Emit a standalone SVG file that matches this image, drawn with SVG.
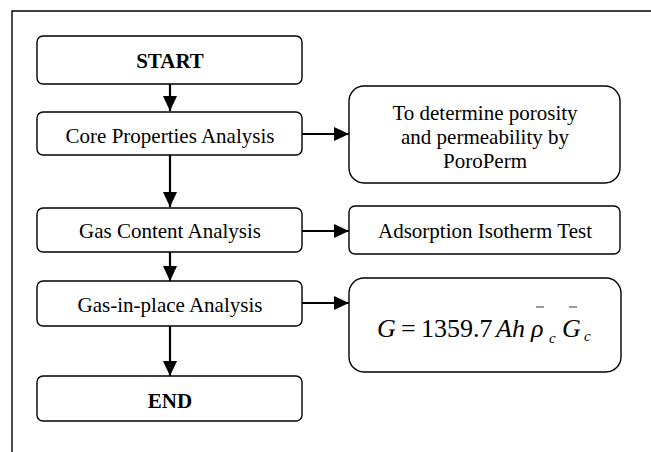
<svg xmlns="http://www.w3.org/2000/svg" width="651" height="452" viewBox="0 0 651 452">
<style>
.box{fill:#fff;stroke:#000;stroke-width:1.4}
.t{font-family:"Liberation Serif","Times New Roman",serif;font-size:21px;fill:#000;text-anchor:middle}
.b{font-weight:bold}
.conn{stroke:#000;stroke-width:2.2;fill:none}
.m{font-family:"Liberation Serif","Times New Roman",serif;fill:#000}
</style>
<defs>
<marker id="ah" markerUnits="userSpaceOnUse" markerWidth="16" markerHeight="16" viewBox="0 0 16 16" refX="15" refY="8" orient="auto">
<path d="M0,1 L15,8 L0,15 Z" fill="#000"/>
</marker>
</defs>
<rect width="651" height="452" fill="#fff"/>
<path d="M12,452 V11 H651" fill="none" stroke="#000" stroke-width="1.4"/>
<g id="connectors">
<line class="conn" x1="170" y1="84" x2="170" y2="111" marker-end="url(#ah)"/>
<line class="conn" x1="170" y1="155" x2="170" y2="207" marker-end="url(#ah)"/>
<line class="conn" x1="170" y1="252" x2="170" y2="281" marker-end="url(#ah)"/>
<line class="conn" x1="170" y1="326" x2="170" y2="376" marker-end="url(#ah)"/>
<line class="conn" x1="302" y1="134" x2="349" y2="134" marker-end="url(#ah)"/>
<line class="conn" x1="302" y1="231" x2="349" y2="231" marker-end="url(#ah)"/>
<line class="conn" x1="302" y1="303" x2="349" y2="303" marker-end="url(#ah)"/>
</g>
<g id="start">
<rect class="box" x="37" y="36" width="265" height="48" rx="6"/>
<text class="t b" x="170" y="68">START</text>
</g>
<g id="core">
<rect class="box" x="37" y="112" width="265" height="43" rx="6"/>
<text class="t" x="170" y="143">Core Properties Analysis</text>
</g>
<g id="gascontent">
<rect class="box" x="37" y="208" width="265" height="44" rx="6"/>
<text class="t" x="170" y="238">Gas Content Analysis</text>
</g>
<g id="gip">
<rect class="box" x="37" y="281" width="265" height="45" rx="6"/>
<text class="t" x="170" y="312">Gas-in-place Analysis</text>
</g>
<g id="end">
<rect class="box" x="37" y="376" width="265" height="45" rx="6"/>
<text class="t b" x="170" y="408">END</text>
</g>
<g id="poroperm">
<rect class="box" x="349" y="86" width="271" height="97" rx="15"/>
<text class="t" x="485" y="120">To determine porosity</text>
<text class="t" x="485" y="144">and permeability by</text>
<text class="t" x="485" y="168">PoroPerm</text>
</g>
<g id="adsorption">
<rect class="box" x="349" y="206" width="271" height="48" rx="6"/>
<text class="t" x="485" y="238">Adsorption Isotherm Test</text>
</g>
<g id="formula">
<rect class="box" x="349" y="278" width="272" height="94" rx="15"/>
<text class="m" font-size="26" y="337"><tspan x="377" font-style="italic">G</tspan><tspan x="401">=</tspan><tspan x="421">1359.7</tspan><tspan x="496" font-style="italic">Ah</tspan><tspan x="531" font-style="italic">ρ</tspan><tspan x="549" y="343" font-size="15" font-style="italic">c</tspan><tspan x="562" y="337" font-style="italic">G</tspan><tspan x="584" y="341" font-size="15" font-style="italic">c</tspan></text>
<line x1="536" y1="307" x2="544" y2="307" stroke="#000" stroke-width="0.8"/>
<line x1="569" y1="307" x2="577" y2="307" stroke="#000" stroke-width="0.8"/>
</g>
</svg>
